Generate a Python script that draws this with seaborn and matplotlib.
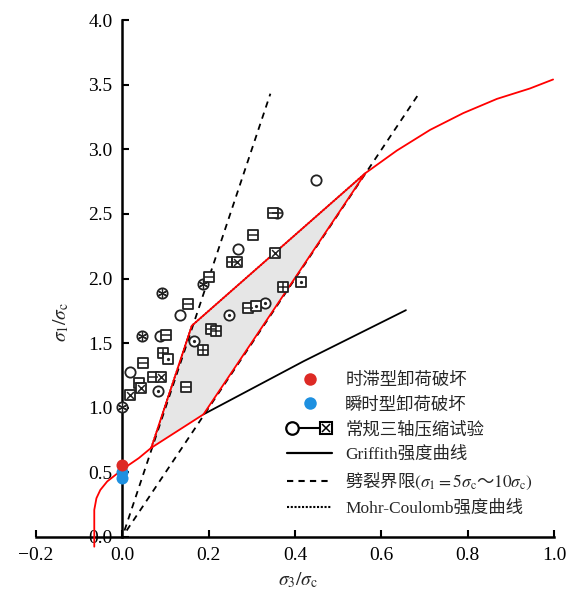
import matplotlib
matplotlib.use('Agg')
import matplotlib.pyplot as plt
import seaborn as sns
from matplotlib.lines import Line2D

# values (x = sigma3/sigma_c, y = sigma1/sigma_c)
hb_low_x = [-0.065, -0.065, -0.060, -0.051, -0.035, -0.016, 0.003, 0.038, 0.067]
hb_low_y = [-0.075, 0.21, 0.30, 0.364, 0.43, 0.48, 0.53, 0.61, 0.69]
hb_high_x = [0.563, 0.636, 0.713, 0.79, 0.868, 0.944, 0.998]
hb_high_y = [2.815, 2.99, 3.15, 3.28, 3.39, 3.47, 3.54]
zone_x = [0.067, 0.161, 0.563, 0.188]
zone_y = [0.69, 1.635, 2.815, 0.949]
griffith_x = [0.188, 0.42, 0.657]
griffith_y = [0.949, 1.36, 1.755]
mc_x = [0.067, 0.161, 0.563]
mc_y = [0.69, 1.635, 2.815]
split10_x = [0.005, 0.343]
split10_y = [0.05, 3.43]
split5_x = [0.01, 0.685]
split5_y = [0.05, 3.42]

delay_x = [0.0]
delay_y = [0.56]
instant_x = [0.0, 0.0]
instant_y = [0.50, 0.46]

# conventional triaxial tests, one list per marker style
circ_x = [0.133, 0.088, 0.017, 0.269, 0.448]
circ_y = [1.72, 1.557, 1.276, 2.225, 2.76]
circdot_x = [0.083, 0.247, 0.165, 0.331]
circdot_y = [1.127, 1.714, 1.52, 1.812]
circstar_x = [0.092, 0.188, 0.046, 0.0]
circstar_y = [1.89, 1.957, 1.555, 1.005]
circminus_x = [0.358]
circminus_y = [2.51]
sqminus_x = [0.152, 0.201, 0.102, 0.049, 0.038, 0.071, 0.147, 0.206, 0.291, 0.302, 0.350]
sqminus_y = [1.80, 2.01, 1.565, 1.348, 1.19, 1.235, 1.158, 1.606, 1.773, 2.34, 2.51]
sqplus_x = [0.094, 0.1875, 0.218, 0.373, 0.254]
sqplus_y = [1.425, 1.446, 1.593, 1.936, 2.125]
sqx_x = [0.044, 0.090, 0.0185, 0.353, 0.265]
sqx_y = [1.152, 1.24, 1.098, 2.20, 2.125]
sqdot_x = [0.105, 0.31, 0.414]
sqdot_y = [1.38, 1.789, 1.97]

x_ticks = [-0.2, 0.0, 0.2, 0.4, 0.6, 0.8, 1.0]
x_labels = ['\u22120.2', '0.0', '0.2', '0.4', '0.6', '0.8', '1.0']
y_ticks = [0.0, 0.5, 1.0, 1.5, 2.0, 2.5, 3.0, 3.5, 4.0]
y_labels = ['0.0', '0.5', '1.0', '1.5', '2.0', '2.5', '3.0', '3.5', '4.0']

labels = ['时滞型卸荷破坏', '瞬时型卸荷破坏', '常规三轴压缩试验', 'Griffith强度曲线',
          r'劈裂界限$(\sigma_1 = 5\sigma_\mathrm{c}$～$10\sigma_\mathrm{c})$', 'Mohr-Coulomb强度曲线']

RED = '#ff0000'
DOT_RED = '#dd2a25'
DOT_BLUE = '#1e90e0'
MK = '#222222'

sns.set_style('ticks')
plt.rcParams['font.family'] = ['Liberation Serif', 'Noto Sans CJK SC']
plt.rcParams['mathtext.fontset'] = 'stix'

fig = plt.figure(figsize=(5.67, 5.89), dpi=100)
ax = fig.add_axes([0.0635, 0.0883, 0.9135, 0.8777])

# shaded zone and curves
ax.fill(zone_x, zone_y, color='#e6e6e6', zorder=1, lw=0)
ax.plot(mc_x, mc_y, color='k', lw=1.2, ls=(0, (1, 1)), zorder=1.5)
ax.plot(split10_x, split10_y, color='k', lw=1.3, ls=(0, (3.5, 3)), zorder=2)
ax.plot(split5_x, split5_y, color='k', lw=1.3, ls=(0, (3.5, 3)), zorder=2)
ax.plot(griffith_x, griffith_y, color='k', lw=1.3, zorder=2)
ax.plot(zone_x + zone_x[:1], zone_y + zone_y[:1], color=RED, lw=1.3, zorder=3)
ax.plot(hb_low_x, hb_low_y, color=RED, lw=1.3, zorder=3, clip_on=False)
ax.plot(hb_high_x, hb_high_y, color=RED, lw=1.3, zorder=3)

# test points: outer shape then inner glyph
def shape(xs, ys, m, s):
    sns.scatterplot(x=xs, y=ys, marker=m, s=s, color='white', edgecolor=MK,
                    linewidth=1.3, zorder=4, ax=ax, clip_on=False)

def glyph(xs, ys, m, s, lw=1.1):
    ax.scatter(xs, ys, marker=m, s=s, color=MK, linewidths=lw, zorder=5, clip_on=False)

shape(circ_x, circ_y, 'o', 55)
shape(circdot_x, circdot_y, 'o', 55)
glyph(circdot_x, circdot_y, '.', 6)
shape(circstar_x, circstar_y, 'o', 55)
glyph(circstar_x, circstar_y, (6, 2, 0), 48, 0.9)
shape(circminus_x, circminus_y, 'o', 55)
glyph(circminus_x, circminus_y, '_', 44)
shape(sqminus_x, sqminus_y, 's', 44)
glyph(sqminus_x, sqminus_y, '_', 44)
shape(sqplus_x, sqplus_y, 's', 44)
glyph(sqplus_x, sqplus_y, '+', 44)
shape(sqx_x, sqx_y, 's', 44)
glyph(sqx_x, sqx_y, 'x', 24)
shape(sqdot_x, sqdot_y, 's', 44)
glyph(sqdot_x, sqdot_y, '.', 6)

sns.scatterplot(x=instant_x, y=instant_y, color=DOT_BLUE, s=75, linewidth=0, zorder=6, ax=ax, clip_on=False)
sns.scatterplot(x=delay_x, y=delay_y, color=DOT_RED, s=75, linewidth=0, zorder=6, ax=ax, clip_on=False)

# axes
ax.set_xlim(-0.2, 1.0)
ax.set_ylim(0, 4)
ax.spines['left'].set_position(('data', 0))
ax.spines['top'].set_visible(False)
ax.spines['right'].set_visible(False)
for sp in ['left', 'bottom']:
    ax.spines[sp].set_linewidth(1.8)
    ax.spines[sp].set_color('k')
ax.set_xticks(x_ticks, x_labels)
ax.set_yticks(y_ticks, y_labels)
ax.tick_params(direction='in', length=5, width=1.5, labelsize=14, colors='k', pad=7)
ax.set_xlabel(r'$\sigma_3/\sigma_\mathrm{c}$', fontsize=14)
ax.set_ylabel(r'$\sigma_1/\sigma_\mathrm{c}$', fontsize=14)
ax.xaxis.set_label_coords(0.506, -0.064)
ax.yaxis.set_label_coords(0.068, 0.416)


class TestHandler:
    def legend_artist(self, legend, orig_handle, fontsize, handlebox):
        x0, y0 = handlebox.xdescent, handlebox.ydescent
        w, h = handlebox.width, handlebox.height
        ym = y0 + h / 2
        parts = [
            Line2D([x0 + 0.25 * w, x0 + 0.72 * w], [ym, ym], color='k', lw=1.5),
            Line2D([x0 + 0.12 * w], [ym], marker='o', ms=9, mfc='white', mec='k', mew=1.6),
            Line2D([x0 + 0.87 * w], [ym], marker='s', ms=8, mfc='white', mec='k', mew=1.5),
            Line2D([x0 + 0.87 * w], [ym], marker='x', ms=5.5, color='k', mew=1.1),
        ]
        for p in parts:
            p.set_transform(handlebox.get_transform())
            handlebox.add_artist(p)
        return parts[0]


h_test = Line2D([], [])
handles = [
    Line2D([], [], ls='none', marker='o', ms=9, color=DOT_RED, mew=0),
    Line2D([], [], ls='none', marker='o', ms=9, color=DOT_BLUE, mew=0),
    h_test,
    Line2D([], [], color='k', lw=1.6),
    Line2D([], [], color='k', lw=1.5, ls=(0, (3, 2.5))),
    Line2D([], [], color='k', lw=1.5, ls=(0, (1, 0.8))),
]
leg = ax.legend(handles, labels, handler_map={h_test: TestHandler()},
                loc='upper left', bbox_to_anchor=(287 / 567, 1 - 373 / 589),
                bbox_transform=fig.transFigure, frameon=False, borderpad=0,
                borderaxespad=0, handlelength=2.6, handletextpad=0.75,
                labelspacing=0.47, prop={'size': 12.5})
leg.get_texts()[4].set_fontfamily('Noto Sans CJK SC')

fig.savefig('out.png', dpi=100)
